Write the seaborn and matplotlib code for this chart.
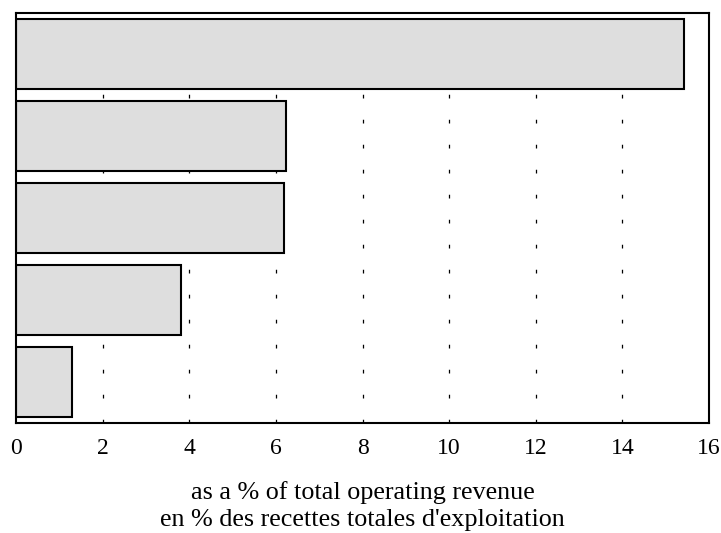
import matplotlib
matplotlib.use("Agg")
import matplotlib.pyplot as plt
import seaborn as sns
import pandas as pd

sns.set_theme(style="white")
plt.rcParams["font.family"] = ["Liberation Serif", "DejaVu Serif"]
plt.rcParams["text.color"] = "black"

# data (categories are unlabeled in the reference)
categories = ["c1", "c2", "c3", "c4", "c5"]
values = [15.42, 6.23, 6.19, 3.81, 1.29]
xticks = [0, 2, 4, 6, 8, 10, 12, 14, 16]
xlabel = "as a % of total operating revenue\nen % des recettes totales d'exploitation"

df = pd.DataFrame({"cat": categories, "val": values})

fig = plt.figure(figsize=(7.21, 5.33), dpi=100)
ax = fig.add_axes([0.0222, 0.207, 0.9612, 0.7686])

sns.barplot(data=df, x="val", y="cat", orient="h", color="#dedede",
            edgecolor="black", linewidth=1.5, width=0.85, saturation=1, ax=ax)

ax.set_xlim(0, 16)
ax.set_ylim(4.5, -0.5)
ax.set_xticks(xticks)
ax.set_xticklabels([str(t) for t in xticks], fontsize=17)
ax.set_yticks([])
ax.set_ylabel("")
ax.set_xlabel(xlabel, fontsize=18.8, labelpad=16, linespacing=1.3, color="black")
ax.tick_params(axis="x", length=0, pad=11, colors="black")

for t in xticks[1:-1]:
    ax.axvline(t, color="black", linewidth=0.9, linestyle=(0, (3, 17)), zorder=0)
ax.set_axisbelow(True)

for s in ax.spines.values():
    s.set_color("black")
    s.set_linewidth(1.5)

plt.savefig("out.png", dpi=100)
plt.close()
